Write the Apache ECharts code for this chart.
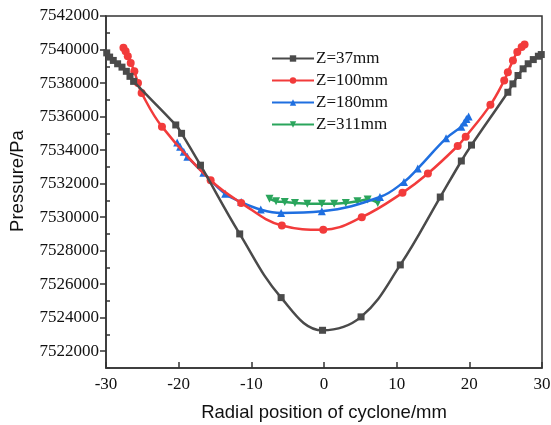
<!DOCTYPE html>
<html>
<head>
<meta charset="utf-8">
<script src="https://cdn.jsdelivr.net/npm/echarts@6/dist/echarts.min.js"></script>
<style>
  html, body { margin: 0; padding: 0; background: #fff; }
  #main { width: 551px; height: 425px; }
</style>
</head>
<body>
<div id="main"></div>
<script>
// data: [radial position mm, pressure Pa]
const seriesNames = ['Z=37mm', 'Z=100mm', 'Z=180mm', 'Z=311mm'];
const z37 = [
  [-29.9, 7539800], [-29.5, 7539550], [-29.0, 7539350], [-28.4, 7539150], [-27.8, 7538950],
  [-27.2, 7538700], [-26.7, 7538400], [-26.2, 7538100], [-20.4, 7535500], [-19.6, 7535000],
  [-17.0, 7533100], [-11.6, 7529000], [-5.9, 7525200], [-0.2, 7523250], [5.1, 7524050],
  [10.5, 7527150], [16.0, 7531200], [18.9, 7533350], [20.3, 7534300], [25.3, 7537450],
  [26.0, 7537950], [26.7, 7538450], [27.4, 7538850], [28.1, 7539150], [28.8, 7539400],
  [29.5, 7539600], [29.9, 7539700]
];
const z100 = [
  [-27.6, 7540100], [-27.3, 7539900], [-27.0, 7539600], [-26.6, 7539200], [-26.1, 7538700],
  [-25.6, 7538000], [-25.1, 7537400], [-22.3, 7535400], [-15.6, 7532200], [-11.4, 7530850],
  [-5.8, 7529500], [-0.1, 7529250], [5.2, 7530000], [10.8, 7531450], [14.3, 7532600],
  [18.4, 7534250], [19.5, 7534800], [22.9, 7536700], [24.8, 7538150], [25.3, 7538650],
  [26.0, 7539350], [26.6, 7539850], [27.2, 7540150], [27.6, 7540300]
];
const z180 = [
  [-20.2, 7534450], [-19.8, 7534200], [-19.3, 7533900], [-18.8, 7533600], [-16.6, 7532650],
  [-13.6, 7531400], [-11.4, 7530900], [-8.7, 7530450], [-5.9, 7530250], [-0.3, 7530350],
  [7.7, 7531200], [11.0, 7532100], [12.9, 7532900], [16.8, 7534700], [18.9, 7535400],
  [19.3, 7535650], [19.6, 7535850], [19.9, 7536000]
];
const z311 = [
  [-7.5, 7531100], [-6.6, 7530950], [-5.4, 7530900], [-4.0, 7530850], [-2.3, 7530800],
  [-0.3, 7530800], [1.4, 7530800], [3.0, 7530850], [4.6, 7530950], [6.0, 7531050],
  [7.4, 7530850]
];
const yTicks = [7522000, 7524000, 7526000, 7528000, 7530000, 7532000, 7534000, 7536000, 7538000, 7540000, 7542000];
const yMinorTicks = [7521000, 7523000, 7525000, 7527000, 7529000, 7531000, 7533000, 7535000, 7537000, 7539000, 7541000];

const colors = ['#4a4a4a', '#f23b3b', '#1f6fe0', '#2aa55c'];
const symbols = ['rect', 'circle', 'triangle', 'path://M0,0 L10,0 L5,9 Z'];

const chart = echarts.init(document.getElementById('main'));

function line(i, data) {
  return {
    name: seriesNames[i],
    type: 'line',
    data: data,
    smooth: 0.4,
    symbol: symbols[i],
    symbolSize: i == 0 ? 7 : 8,
    showSymbol: true,
    lineStyle: { width: 2.5, color: colors[i] },
    itemStyle: { color: colors[i] },
    z: 10 - i
  };
}

const serif = 'Liberation Serif';
chart.setOption({
  animation: false,
  backgroundColor: '#fff',
  grid: {
    left: 106, right: 9, top: 16, bottom: 57,
    outerBoundsMode: 'none',
    show: true, borderColor: '#333', borderWidth: 1.5
  },
  legend: {
    data: seriesNames,
    left: 266, top: 45,
    orient: 'vertical',
    itemWidth: 42, itemHeight: 8, itemGap: 5,
    textStyle: { fontFamily: serif, fontSize: 17, color: '#111', padding: [0, 0, 0, -3] }
  },
  graphic: [{
    type: 'text',
    x: 18, y: 181,
    rotation: Math.PI / 2,
    style: {
      text: 'Pressure/Pa',
      fontFamily: 'Liberation Sans', fontSize: 18.5, fill: '#111',
      textAlign: 'center', textVerticalAlign: 'middle'
    }
  }],
  xAxis: {
    type: 'value',
    min: -30, max: 30, interval: 10,
    name: 'Radial position of cyclone/mm',
    nameLocation: 'middle', nameGap: 35,
    nameTextStyle: { fontFamily: 'Liberation Sans', fontSize: 18.5, color: '#111' },
    axisLine: { onZero: false, lineStyle: { color: '#333', width: 1.5 } },
    axisTick: { inside: true, length: 6, lineStyle: { color: '#333', width: 1.5 } },
    axisLabel: { fontFamily: serif, fontSize: 17, color: '#111', margin: 8 },
    splitLine: { show: false }
  },
  yAxis: [{
    type: 'value',
    min: 7521000, max: 7542000,
    axisLine: { onZero: false, lineStyle: { color: '#333', width: 1.5 } },
    axisTick: { length: 6, customValues: yTicks, lineStyle: { color: '#333', width: 1.5 } },
    axisLabel: {
      fontFamily: serif, fontSize: 17, color: '#111', margin: 7,
      customValues: yTicks,
      formatter: v => String(v)
    },
    splitLine: { show: false }
  }, {
    // short inward ticks at the odd thousands
    type: 'value',
    position: 'left',
    min: 7521000, max: 7542000,
    axisLine: { show: false, onZero: false },
    axisTick: { inside: true, length: 4, customValues: yMinorTicks, lineStyle: { color: '#333', width: 1.5 } },
    axisLabel: { show: false },
    splitLine: { show: false }
  }],
  series: [line(0, z37), line(1, z100), line(2, z180), line(3, z311)]
});
</script>
</body>
</html>
